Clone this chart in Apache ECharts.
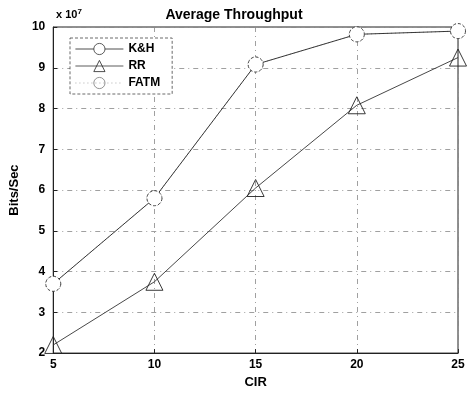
<!DOCTYPE html>
<html>
<head>
<meta charset="utf-8">
<script src="https://cdn.jsdelivr.net/npm/echarts@6/dist/echarts.min.js"></script>
<style>html,body{margin:0;padding:0;background:#fff}</style>
</head>
<body>
<div id="echarts" style="width:468px;height:394px"></div>
<script>
var cir = [5, 10, 15, 20, 25];
var khValues = [3.7, 5.8, 9.08, 9.82, 9.9];
var rrValues = [2.2, 3.75, 6.05, 8.08, 9.25];
var fatmValues = [3.7, 5.8, 9.08, 9.82, 9.9];
var yTicks = [2, 3, 4, 5, 6, 7, 8, 9, 10];

var chartDom = document.getElementById('echarts');
var myChart = echarts.init(chartDom);

function pairs(vals) {
    return cir.map(function (c, i) { return [c, vals[i]]; });
}

var font = 'Liberation Sans, Arial, sans-serif';
var gridLine = { show: true, lineStyle: { color: '#888', type: [5, 4, 1, 4], width: 0.8 } };

var option = {
    backgroundColor: '#fff',
    animation: false,
    title: {
        text: 'Average Throughput',
        left: 'center',
        top: 3,
        textStyle: { color: '#000', fontWeight: 'bold', fontSize: 14, fontFamily: font }
    },
    graphic: [{
        type: 'text',
        left: 56,
        top: 8,
        style: {
            text: 'x 10{sup|7}',
            fill: '#000',
            font: 'bold 11px ' + font,
            rich: { sup: { fontSize: 8, fontWeight: 'bold', verticalAlign: 'top', padding: [0, 0, 6, 0] } }
        }
    }],
    legend: {
        orient: 'vertical',
        left: 70,
        top: 38,
        itemGap: 5,
        itemWidth: 48,
        itemHeight: 14,
        padding: [5, 12, 5, 5],
        backgroundColor: '#fff',
        borderColor: '#444',
        borderWidth: 0.8,
        borderType: [3, 2],
        lineStyle: { width: 0.8 },
        itemStyle: { borderWidth: 0.8 },
        textStyle: { color: '#000', fontWeight: 'bold', fontSize: 12, fontFamily: font },
        data: ['K&H', 'RR', 'FATM']
    },
    grid: {
        left: 53, right: 10, top: 27, bottom: 33,
        show: true, borderColor: '#222', borderWidth: 1
    },
    xAxis: {
        type: 'value',
        min: 5, max: 25, interval: 5,
        name: 'CIR',
        nameLocation: 'middle',
        nameGap: 20,
        nameTextStyle: { color: '#000', fontWeight: 'bold', fontSize: 13, fontFamily: font },
        axisLine: { lineStyle: { color: '#222' } },
        axisTick: { inside: true, length: 4, lineStyle: { color: '#222' } },
        axisLabel: { color: '#000', fontWeight: 'bold', fontSize: 12, fontFamily: font, margin: 6 },
        splitLine: gridLine
    },
    yAxis: {
        type: 'value',
        min: 2, max: 10, interval: 1,
        name: 'Bits/Sec',
        nameLocation: 'middle',
        nameGap: 28,
        nameTextStyle: { color: '#000', fontWeight: 'bold', fontSize: 13, fontFamily: font },
        axisLine: { lineStyle: { color: '#222' } },
        axisTick: { inside: true, length: 4, lineStyle: { color: '#222' } },
        axisLabel: {
            color: '#000', fontWeight: 'bold', fontSize: 12, fontFamily: font, margin: 8,
            formatter: function (v) { return yTicks.indexOf(v) >= 0 ? String(v) : ''; }
        },
        splitLine: gridLine
    },
    series: [{
        name: 'K&H',
        type: 'line',
        data: pairs(khValues),
        symbol: 'circle',
        symbolSize: 15,
        itemStyle: { color: '#fff', borderColor: '#333', borderWidth: 0.9, borderType: [3, 2] },
        lineStyle: { color: '#222', width: 0.9 },
        z: 3
    }, {
        name: 'RR',
        type: 'line',
        data: pairs(rrValues),
        symbol: 'triangle',
        symbolSize: 17,
        itemStyle: { color: 'rgba(255,255,255,0)', borderColor: '#222', borderWidth: 0.9 },
        lineStyle: { color: '#333', width: 0.9 },
        z: 3
    }, {
        name: 'FATM',
        type: 'line',
        data: pairs(fatmValues),
        symbol: 'circle',
        symbolSize: 15,
        itemStyle: { color: 'rgba(255,255,255,0)', borderColor: '#777', borderWidth: 0.9, borderType: [1, 3] },
        lineStyle: { color: '#999', width: 0.8, type: [1, 3] },
        z: 2
    }]
};
myChart.setOption(option);
</script>
</body>
</html>
